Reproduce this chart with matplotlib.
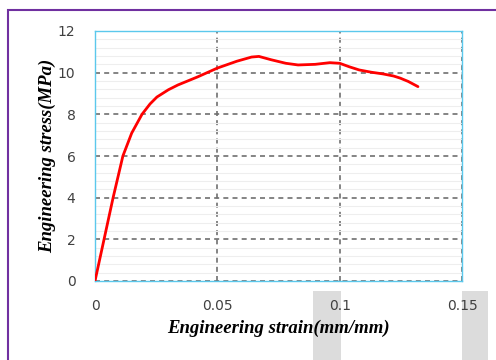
import matplotlib
matplotlib.use("Agg")
import matplotlib.pyplot as plt
from matplotlib.patches import Rectangle
from matplotlib.ticker import MultipleLocator

# strain (mm/mm) vs stress (MPa)
strain = [0.0, 0.0037, 0.0074, 0.0114, 0.0150, 0.0192, 0.0225, 0.0253, 0.0300, 0.0339,
          0.0420, 0.0500, 0.0580, 0.0640, 0.0670, 0.0720, 0.0780, 0.0830, 0.0900,
          0.0960, 0.1000, 0.1040, 0.1080, 0.1130, 0.1177, 0.1220, 0.1247, 0.1280, 0.1320]
stress = [0.0, 2.0, 4.0, 6.0, 7.1, 8.0, 8.5, 8.83, 9.18, 9.41,
          9.80, 10.22, 10.55, 10.75, 10.78, 10.62, 10.45, 10.37, 10.40,
          10.48, 10.45, 10.28, 10.13, 10.02, 9.94, 9.84, 9.74, 9.58, 9.33]

xticks = [0, 0.05, 0.1, 0.15]
xticklabels = ["0", "0.05", "0.1", "0.15"]
yticks = [0, 2, 4, 6, 8, 10, 12]

fig = plt.figure(figsize=(4.96, 3.60), dpi=100)

# purple frame around the figure
fig.patches.append(Rectangle((8 / 496, -0.1), 1.2, (1 - 10 / 360) + 0.1, transform=fig.transFigure,
                             fill=False, edgecolor="#7030a0", linewidth=1.5, zorder=-2))
# grey blocks at the bottom
for x0, x1 in [(313, 341), (462, 488)]:
    fig.patches.append(Rectangle((x0 / 496, 0), (x1 - x0) / 496, (360 - 291) / 360,
                                 transform=fig.transFigure, facecolor="#dcdcdc",
                                 edgecolor="none", zorder=-1))

ax = fig.add_axes([95 / 496, 1 - 281 / 360, (462 - 95) / 496, (281 - 31) / 360])
ax.set_facecolor("none")

ax.plot(strain, stress, color="red", linewidth=2, zorder=3,
        solid_joinstyle="round", solid_capstyle="round")

ax.set_xlim(0, 0.15)
ax.set_ylim(0, 12)
ax.set_xticks(xticks)
ax.set_xticklabels(xticklabels)
ax.set_yticks(yticks)
ax.yaxis.set_minor_locator(MultipleLocator(0.4))

ax.grid(which="minor", axis="y", color="#eeeeee", linewidth=0.8, linestyle="-")
ax.grid(which="major", axis="both", color="#707070", linewidth=1.2, linestyle=(0, (3, 2.5)))
ax.set_axisbelow(True)

for s in ax.spines.values():
    s.set_color("#5bc8ec")
    s.set_linewidth(1.0)

ax.tick_params(which="both", length=0)
ax.tick_params(axis="x", pad=13, labelsize=10, labelcolor="#404040")
ax.tick_params(axis="y", pad=14, labelsize=10, labelcolor="#404040")

lab = dict(family="Liberation Serif", fontweight="bold", fontstyle="italic", fontsize=13.5)
ax.set_xlabel("Engineering strain(mm/mm)", labelpad=5, **lab)
ax.set_ylabel("Engineering stress(MPa)", labelpad=1, **lab)

fig.savefig("out.png", dpi=100)
